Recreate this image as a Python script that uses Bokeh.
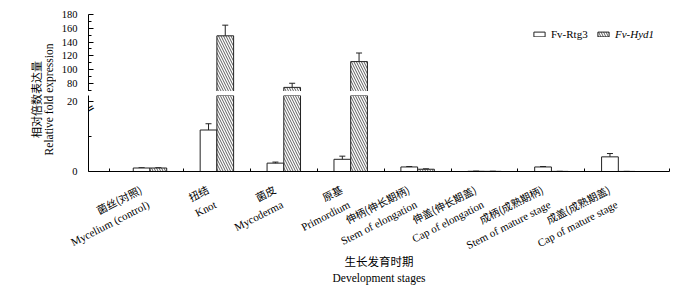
import math
from bokeh.plotting import figure
from bokeh.models import (ColumnDataSource, Range1d, FixedTicker, Whisker, TeeHead,
                          Legend, LegendItem, LinearAxis, CustomJSTickFormatter,
                          CDSView, BooleanFilter, Label)
from bokeh.layouts import row, column
from bokeh.transform import dodge
from bokeh.embed import file_html
from bokeh.resources import INLINE

# ---------------- data ----------------
stages_cn = ["菌丝(对照)", "扭结", "菌皮", "原基", "伸柄(伸长期柄)",
             "伸盖(伸长期盖)", "成柄(成熟期柄)", "成盖(成熟期盖)"]
stages_en = ["Mycelium (control)", "Knot", "Mycoderma", "Primordium",
             "Stem of elongation", "Cap of elongation", "Stem of mature stage",
             "Cap of mature stage"]
series_names = ["Fv-Rtg3", "Fv-Hyd1"]
rtg3 = [1.0, 11.9, 2.4, 3.5, 1.3, 0.06, 1.3, 4.2]
rtg3_err = [0.05, 1.8, 0.3, 0.9, 0.12, 0.02, 0.12, 0.95]
hyd1 = [1.0, 149.0, 74.0, 111.5, 0.65, 0.04, 0.03, 0.02]
hyd1_err = [0.05, 15.5, 6.0, 12.5, 0.12, 0.01, 0.01, 0.01]

y_title_cn = "相对倍数表达量"
y_title_en = "Relative fold expression"
x_title_cn = "生长发育时期"
x_title_en = "Development stages"

low_range = (0, 21.8)
high_range = (68, 180)
low_ticks = [0, 20]
low_minor = [10]
high_ticks = [80, 100, 120, 140, 160, 180]
high_minor = [70, 90, 110, 130, 150, 170]

# ---------------- layout / style ----------------
SERIF = "Liberation Serif"
CJK = "Noto Sans CJK SC"
W, H = 700, 288
LEFT_W = 56
MAIN_W = W - LEFT_W
MB_L, MB_R = 32, 31
UP_H, LOW_H = 91, 87
BOT_H = H - UP_H - LOW_H
X0, X1 = -0.919, 7.765
BW = 0.25
ANG = math.radians(27)
x_ticks = [-0.6, 0.5, 1.5, 2.5, 3.5, 4.5, 5.5, 6.5, 7.76]
LINE = "#222222"

idx = list(range(len(stages_en)))
xr = Range1d(X0, X1)


def make_fig(h, yr, mb_top, mb_bottom, with_x):
    p = figure(width=MAIN_W, height=h, x_range=xr, y_range=Range1d(*yr),
               output_backend="svg", toolbar_location=None,
               min_border_left=MB_L, min_border_right=MB_R,
               min_border_top=mb_top, min_border_bottom=mb_bottom,
               x_axis_location="below" if with_x else None)
    p.grid.visible = False
    p.outline_line_color = None
    ax = p.yaxis[0]
    ax.major_tick_in = 5
    ax.major_tick_out = 0
    ax.minor_tick_in = 3
    ax.minor_tick_out = 0
    ax.major_label_standoff = 11
    ax.major_label_text_font = SERIF
    ax.major_label_text_font_size = "10.5px"
    ax.major_label_text_color = "black"
    ax.axis_line_color = "black"
    ax.major_tick_line_color = "black"
    ax.minor_tick_line_color = "black"
    if with_x:
        xa = p.xaxis[0]
        xa.ticker = FixedTicker(ticks=x_ticks, minor_ticks=[])
        xa.major_tick_in = 3
        xa.major_tick_out = 0
        xa.major_label_standoff = 0
        xa.formatter = CustomJSTickFormatter(code="return ''")
        xa.axis_line_color = "black"
        xa.major_tick_line_color = "black"
    return p


def draw_bars(p, keep):
    rs = []
    specs = ((rtg3, rtg3_err, -BW / 2, {}),
             (hyd1, hyd1_err, BW / 2, dict(hatch_pattern="\\", hatch_scale=5,
                                            hatch_weight=0.8, hatch_color="#333333")))
    for vals, errs, off, hatch in specs:
        sel = [i for i in idx if keep(vals[i])]
        if sel:
            s = ColumnDataSource(dict(idx=sel, val=[vals[i] for i in sel],
                                      upper=[vals[i] + errs[i] for i in sel],
                                      lower=[vals[i] - errs[i] for i in sel]))
        else:
            # nothing of this series reaches this panel: an empty proxy keeps the legend glyph
            nan = float("nan")
            s = ColumnDataSource(dict(idx=[nan], val=[nan], upper=[nan], lower=[nan]))
        r = p.vbar(x=dodge("idx", off, range=p.x_range), top="val", bottom=0, width=BW,
                   source=s, fill_color="white", line_color=LINE, line_width=1, **hatch)
        rs.append(r)
        if sel:
            w = Whisker(source=s, base=dodge("idx", off, range=p.x_range), upper="upper",
                        lower="lower", dimension="height", line_color=LINE, line_width=1,
                        upper_head=TeeHead(size=6, line_color=LINE, line_width=1),
                        lower_head=TeeHead(size=6, line_color=LINE, line_width=1))
            p.add_layout(w)
    return rs


# ---------- upper panel (above the break) ----------
up = make_fig(UP_H, high_range, 14, 0, False)
up.yaxis[0].ticker = FixedTicker(ticks=high_ticks, minor_ticks=high_minor)
ru1, ru2 = draw_bars(up, lambda v: v > low_range[1])

for name, r, xloc, style in ((series_names[0], ru1, 444, "normal"),
                             (series_names[1], ru2, 508, "italic")):
    leg = Legend(items=[LegendItem(label=name, renderers=[r])], location=(xloc, 51),
                 padding=0, margin=0, spacing=0, border_line_color=None,
                 background_fill_alpha=0, glyph_width=14, glyph_height=6,
                 label_standoff=5, label_height=12, label_text_font=SERIF,
                 label_text_font_size="11px", label_text_font_style=style,
                 label_text_color="black")
    up.add_layout(leg)

# ---------- lower panel (below the break) ----------
low = make_fig(LOW_H, low_range, 4, LOW_H - 4 - 76, True)
low.yaxis[0].ticker = FixedTicker(ticks=low_ticks, minor_ticks=low_minor)
draw_bars(low, lambda v: True)

# axis-break mark: tick label of an extra axis pinned on the y axis line
brk = LinearAxis(fixed_location=X0, ticker=FixedTicker(ticks=[low_range[1]], minor_ticks=[]),
                 formatter=CustomJSTickFormatter(code="return '='"),
                 axis_line_color=None, major_tick_line_color=None, minor_tick_line_color=None,
                 major_tick_in=0, major_tick_out=0, minor_tick_in=0, minor_tick_out=0,
                 major_label_standoff=-4, major_label_orientation=0.5,
                 major_label_text_font="DejaVu Sans", major_label_text_font_size="13px",
                 major_label_text_color="black")
low.add_layout(brk, "right")


def gy(global_y):
    """page row -> data y of a full-canvas side panel whose bottom is the page bottom"""
    return H - global_y


# ---------- left panel: y title ----------
LF_H = UP_H + LOW_H
lf = figure(width=LEFT_W, height=LF_H, x_range=Range1d(0, LEFT_W), y_range=Range1d(0, LF_H),
            output_backend="svg", toolbar_location=None, min_border=0,
            x_axis_location=None, y_axis_location=None)
lf.grid.visible = False
lf.outline_line_color = None
lf.add_layout(Label(x=35, y=LF_H - 99, text=y_title_cn, angle=math.pi / 2, text_align="center",
                    text_baseline="middle", text_font=CJK, text_font_size="11px",
                    text_color="black"))
lf.add_layout(Label(x=48, y=LF_H - 99, text=y_title_en, angle=math.pi / 2, text_align="center",
                    text_baseline="middle", text_font=SERIF, text_font_size="11.5px",
                    text_color="black"))

# ---------- bottom panel (full width): category labels and x title ----------
scale = (MAIN_W - MB_L - MB_R) / (X1 - X0)
bot = figure(width=W, height=BOT_H,
             x_range=Range1d(X0 - (LEFT_W + MB_L) / scale, X1 + MB_R / scale),
             y_range=Range1d(0, BOT_H),
             output_backend="svg", toolbar_location=None, min_border=0,
             x_axis_location=None, y_axis_location=None)
bot.grid.visible = False
bot.outline_line_color = None

for i, (cn, en) in enumerate(zip(stages_cn, stages_en)):
    bot.add_layout(Label(x=i, y=gy(188), text=cn, angle=ANG, text_align="right",
                         text_baseline="middle", x_offset=-9, text_font=CJK,
                         text_font_size="10.5px", text_color="black"))
    bot.add_layout(Label(x=i, y=gy(203), text=en, angle=ANG, text_align="right",
                         text_baseline="middle", x_offset=-1.5, text_font=SERIF,
                         text_font_size="11px", text_color="black"))
xmid = (X0 + X1) / 2
bot.add_layout(Label(x=xmid, y=gy(260), text=x_title_cn, text_align="center",
                     text_baseline="middle", text_font=CJK, text_font_size="11.5px",
                     text_color="black"))
bot.add_layout(Label(x=xmid, y=gy(277), text=x_title_en, text_align="center",
                     text_baseline="middle", text_font=SERIF, text_font_size="11.5px",
                     text_color="black"))

layout = column(row(lf, column(up, low, spacing=0), spacing=0), bot, spacing=0)
open("out.html", "w").write(file_html(layout, INLINE))
